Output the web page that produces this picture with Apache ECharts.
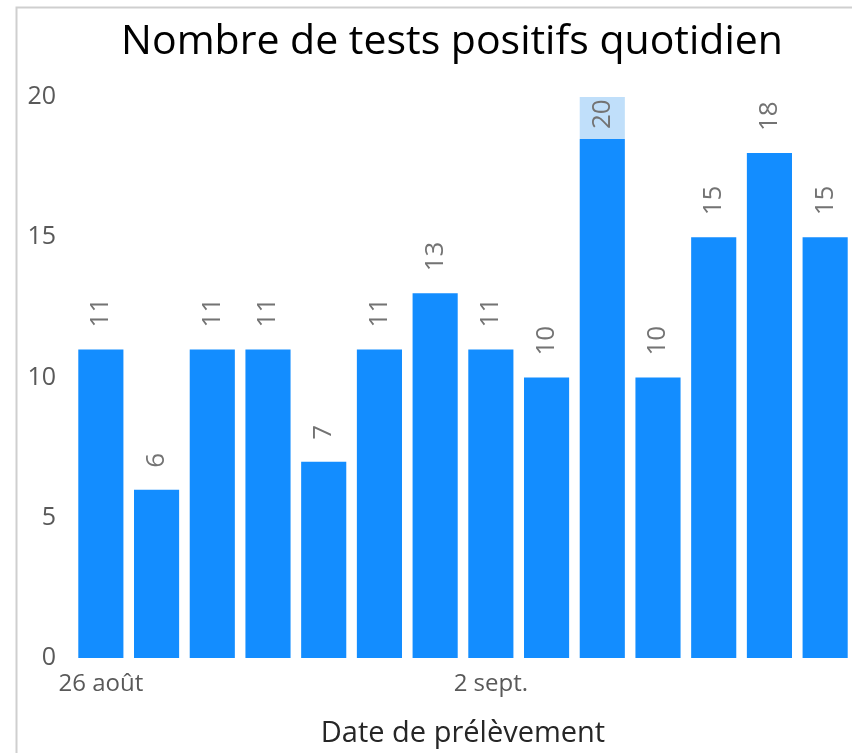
<!DOCTYPE html>
<html>
<head>
<meta charset="utf-8">
<script src="https://cdn.jsdelivr.net/npm/echarts@6/dist/echarts.min.js"></script>
<style>
  html, body { margin: 0; padding: 0; background: #fff; }
  #chart { width: 852px; height: 753px; }
</style>
</head>
<body>
<div id="chart"></div>
<script>
var dates = ['26 août', '27 août', '28 août', '29 août', '30 août', '31 août', '1 sept.',
             '2 sept.', '3 sept.', '4 sept.', '5 sept.', '6 sept.', '7 sept.', '8 sept.'];
var confirmed = [11, 6, 11, 11, 7, 11, 13, 11, 10, 18.5, 10, 15, 18, 15];
var pending = [0, 0, 0, 0, 0, 0, 0, 0, 0, 1.5, 0, 0, 0, 0];
var yTicks = [0, 5, 10, 15, 20];

var font = '"Open Sans", "Noto Sans", sans-serif';

var myChart = echarts.init(document.getElementById('chart'));

var darkData = confirmed.map(function (v, i) {
  var item = { value: v };
  if (pending[i] > 0) {
    item.label = { distance: 10 }; // label kept inside the light part
  }
  return item;
});

var option = {
  animation: false,
  backgroundColor: '#fff',
  title: {
    text: 'Nombre de tests positifs quotidien',
    left: 447,
    textAlign: 'center',
    top: 17,
    textStyle: { fontFamily: font, fontSize: 41, fontWeight: 'normal', color: '#000' }
  },
  graphic: [{
    type: 'rect',
    shape: { x: 16.5, y: 7.5, width: 900, height: 800 },
    style: { fill: 'none', stroke: '#cfcfcf', lineWidth: 2 },
    silent: true
  }],
  grid: { left: 73, right: -1, top: 97, bottom: 95, outerBoundsMode: 'none', containLabel: false },
  xAxis: {
    type: 'category',
    data: dates,
    name: 'Date de prélèvement',
    nameLocation: 'middle',
    nameGap: 61,
    nameTextStyle: { fontFamily: font, fontSize: 29, color: '#262626' },
    axisLine: { show: false },
    axisTick: { show: false },
    axisLabel: {
      interval: 6,
      margin: 14,
      fontFamily: font, fontSize: 24, color: '#595959'
    }
  },
  yAxis: {
    type: 'value',
    min: yTicks[0],
    max: yTicks[yTicks.length - 1],
    interval: 5,
    splitLine: { show: false },
    axisLine: { show: false },
    axisTick: { show: false },
    axisLabel: { margin: 17, fontFamily: font, fontSize: 25, color: '#595959' }
  },
  series: [
    {
      name: 'confirmés',
      type: 'bar',
      stack: 'total',
      barCategoryGap: '19%',
      itemStyle: { color: '#138dff' },
      label: {
        show: true,
        position: 'top',
        rotate: 90,
        align: 'left',
        verticalAlign: 'middle',
        distance: 22,
        fontFamily: font,
        fontSize: 26,
        color: '#737373',
        formatter: function (p) {
          return Math.round(confirmed[p.dataIndex] + pending[p.dataIndex]);
        }
      },
      data: darkData
    },
    {
      name: 'en attente',
      type: 'bar',
      stack: 'total',
      itemStyle: { color: '#c0dffa' },
      data: pending
    }
  ]
};

myChart.setOption(option);
</script>
</body>
</html>
